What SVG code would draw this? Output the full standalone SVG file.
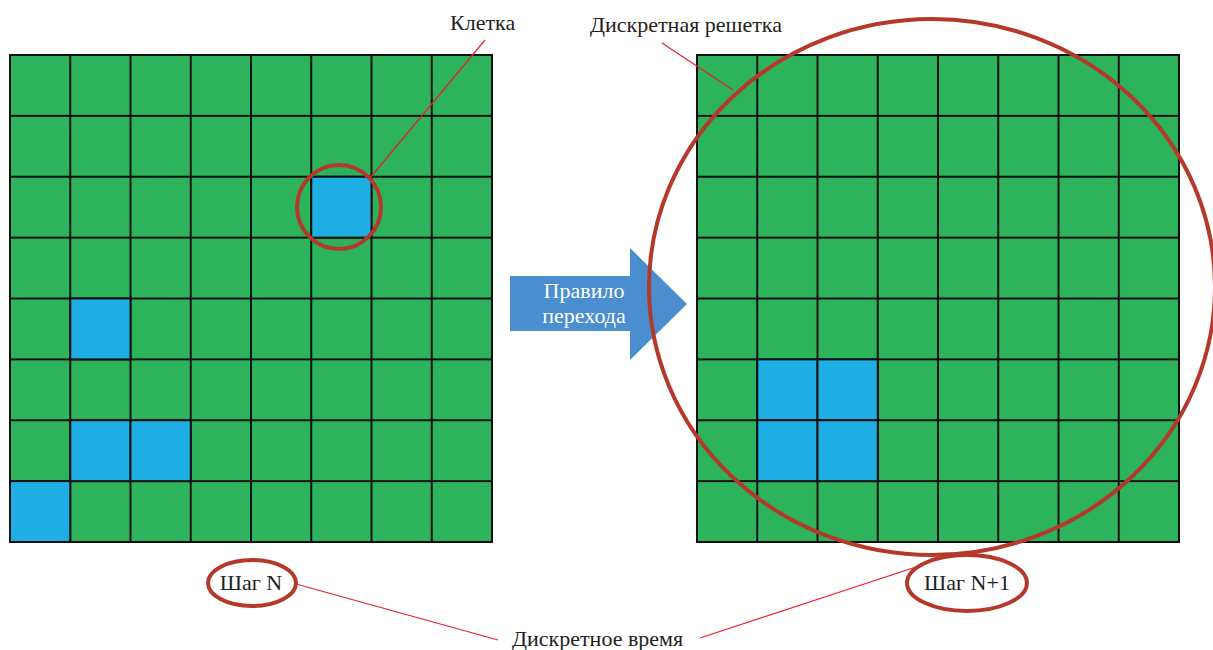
<svg xmlns="http://www.w3.org/2000/svg" width="1213" height="650" viewBox="0 0 1213 650">
<style>
.b{fill:#1eaee4;stroke:#111;stroke-width:2}
.ring{fill:none;stroke:#b5392a;stroke-width:4}
.lbl{font-family:"Liberation Serif",serif;font-size:22px;fill:#222}
.lead{stroke:#e8202a;stroke-width:1.2;fill:none}
.at{font-family:"Liberation Serif",serif;font-size:22px;fill:#fff}
</style>
<defs>
<pattern id="gridL" x="10" y="55" width="60.25" height="60.875" patternUnits="userSpaceOnUse">
<rect x="0" y="0" width="60.25" height="60.875" fill="#2db35c" stroke="#111" stroke-width="2"/>
</pattern>
<pattern id="gridR" x="697" y="55" width="60.25" height="60.875" patternUnits="userSpaceOnUse">
<rect x="0" y="0" width="60.25" height="60.875" fill="#2db35c" stroke="#111" stroke-width="2"/>
</pattern>
</defs>
<g id="grid-step-n">
<rect x="10" y="55" width="482" height="487" fill="url(#gridL)" stroke="#111" stroke-width="2"/>
<rect class="b" x="311.25" y="176.75" width="60.25" height="60.875"/>
<rect class="b" x="70.25" y="298.5" width="60.25" height="60.875"/>
<rect class="b" x="70.25" y="420.25" width="60.25" height="60.875"/>
<rect class="b" x="130.5" y="420.25" width="60.25" height="60.875"/>
<rect class="b" x="10" y="481.125" width="60.25" height="60.875"/>
</g>
<g id="grid-step-n1">
<rect x="697" y="55" width="482" height="487" fill="url(#gridR)" stroke="#111" stroke-width="2"/>
<rect class="b" x="757.25" y="359.375" width="60.25" height="60.875"/>
<rect class="b" x="817.5" y="359.375" width="60.25" height="60.875"/>
<rect class="b" x="757.25" y="420.25" width="60.25" height="60.875"/>
<rect class="b" x="817.5" y="420.25" width="60.25" height="60.875"/>
</g>
<g id="arrow-rule">
<polygon points="510,276 630,276 630,248 687,304 630,360 630,331 510,331" fill="#4a8ed0"/>
<text class="at" x="584" y="298" text-anchor="middle">Правило</text>
<text class="at" x="584" y="323" text-anchor="middle">перехода</text>
</g>
<g id="connectors">
<line class="lead" x1="296" y1="584" x2="498" y2="640"/>
<line class="lead" x1="485" y1="40" x2="370" y2="178"/>
<line class="lead" x1="662" y1="43" x2="733" y2="90"/>
<line class="lead" x1="700" y1="638" x2="922" y2="565"/>
</g>
<g id="cell-ring">
<circle class="ring" cx="339" cy="207" r="42"/>
</g>
<g id="lattice-ring">
<ellipse class="ring" cx="932" cy="287" rx="283" ry="268"/>
</g>
<g id="label-cell"><text class="lbl" x="450" y="30">Клетка</text></g>
<g id="label-lattice"><text class="lbl" x="590" y="32">Дискретная решетка</text></g>
<g id="label-step-n">
<ellipse class="ring" cx="252" cy="583" rx="44" ry="23"/>
<text class="lbl" x="251" y="590" text-anchor="middle">Шаг N</text>
</g>
<g id="label-step-n1">
<ellipse class="ring" cx="967" cy="583" rx="60" ry="28"/>
<text class="lbl" x="967" y="590" text-anchor="middle">Шаг N+1</text>
</g>
<g id="label-time"><text class="lbl" x="512" y="646">Дискретное время</text></g>
</svg>
